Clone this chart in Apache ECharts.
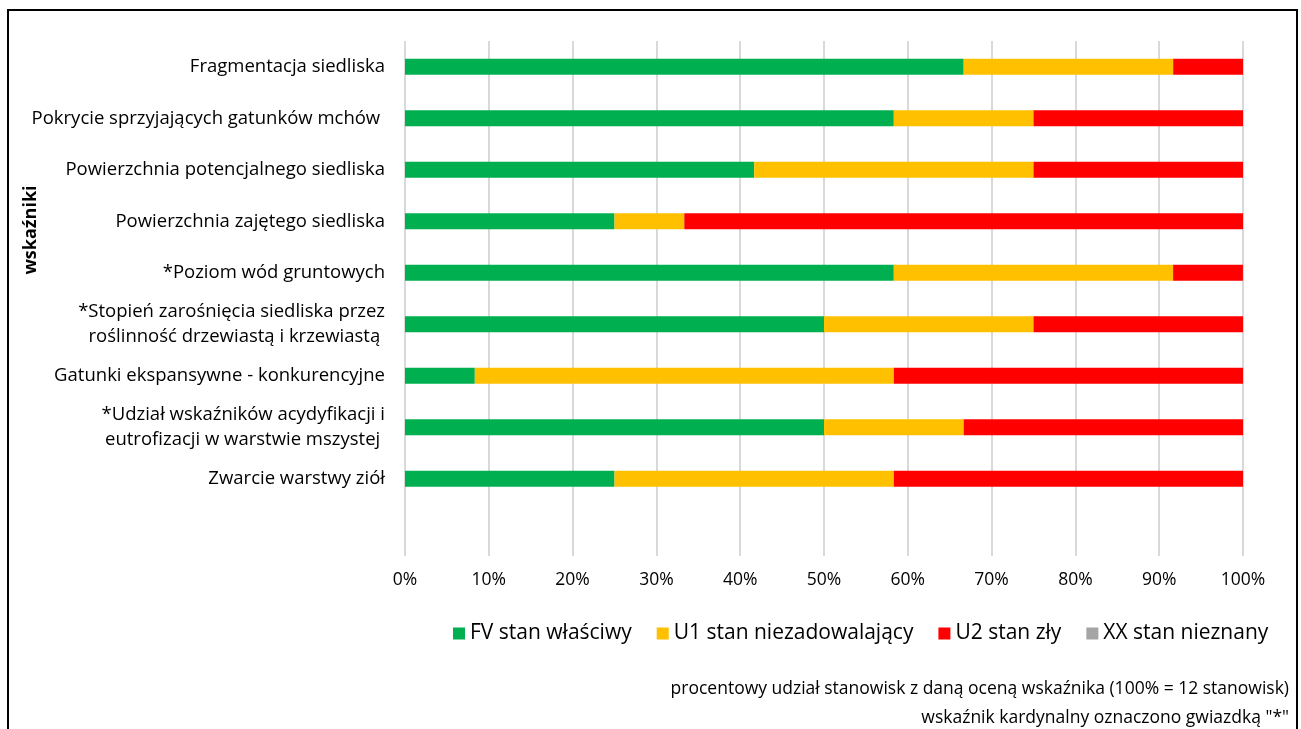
<!DOCTYPE html>
<html><head><meta charset="utf-8">
<script src="https://cdn.jsdelivr.net/npm/echarts@6/dist/echarts.min.js"></script>
<style>html,body{margin:0;padding:0;background:#fff}#c{width:1301px;height:729px}</style>
</head><body><div id="c"></div>
<script>
const categories = [
  'Fragmentacja siedliska',
  'Pokrycie sprzyjających gatunków mchów ',
  'Powierzchnia potencjalnego siedliska',
  'Powierzchnia zajętego siedliska',
  '*Poziom wód gruntowych',
  '*Stopień zarośnięcia siedliska przez\nroślinność drzewiastą i krzewiastą ',
  'Gatunki ekspansywne - konkurencyjne',
  '*Udział wskaźników acydyfikacji i\neutrofizacji w warstwie mszystej ',
  'Zwarcie warstwy ziół',
  ''
];
const fv = [66.67, 58.33, 41.67, 25, 58.33, 50, 8.33, 50, 25, null];
const u1 = [25, 16.67, 33.33, 8.33, 33.33, 25, 50, 16.67, 33.33, null];
const u2 = [8.33, 25, 25, 66.67, 8.33, 25, 41.67, 33.33, 41.67, null];
const xx = [0, 0, 0, 0, 0, 0, 0, 0, 0, null];
const seriesNames = ['FV stan właściwy', 'U1 stan niezadowalający', 'U2 stan zły', 'XX stan nieznany'];
const colors = ['#00B050', '#FFC000', '#FF0000', '#A5A5A5'];
const yTitle = 'wskaźniki';
const footnotes = ['procentowy udział stanowisk z daną oceną wskaźnika (100% = 12 stanowisk)', 'wskaźnik kardynalny oznaczono gwiazdką "*"'];

const FONT = 'Open Sans';
const chart = echarts.init(document.getElementById('c'));
const vals = [fv, u1, u2, xx];
chart.setOption({
  animation: false,
  textStyle: { fontFamily: FONT },
  color: colors,
  grid: { left: 405, right: 58, top: 41, height: 515, containLabel: false },
  xAxis: {
    type: 'value', min: 0, max: 100, interval: 10,
    axisLabel: { formatter: '{value}%', color: '#000', fontSize: 17.5, fontFamily: FONT, margin: 15 },
    splitLine: { lineStyle: { color: '#D9D9D9', width: 2 } },
    axisLine: { show: false }, axisTick: { show: false }
  },
  yAxis: {
    type: 'category', inverse: true, data: categories,
    axisLabel: { color: '#000', fontSize: 18.5, fontFamily: FONT, margin: 20, lineHeight: 25, align: 'right' },
    axisLine: { show: false }, axisTick: { show: false }, splitLine: { show: false }
  },
  legend: {
    data: seriesNames, top: 618, left: 448,
    icon: 'rect', itemWidth: 12, itemHeight: 12, itemGap: 25, itemTextGap: 5,
    textStyle: { fontSize: 21, color: '#000', fontFamily: FONT }
  },
  series: seriesNames.map((n, i) => ({
    name: n, type: 'bar', stack: 'all', barWidth: 16, data: vals[i],
    itemStyle: { color: colors[i] }
  })),
  graphic: [
    { type: 'rect', shape: { x: 8, y: 10, width: 1289, height: 740 }, style: { fill: 'none', stroke: '#000', lineWidth: 2 }, silent: true },
    { type: 'text', x: 31, y: 230, rotation: Math.PI / 2, style: { text: yTitle, fontSize: 18, fontWeight: 'bold', fontFamily: FONT, fill: '#000', align: 'center', verticalAlign: 'middle' } },
    { type: 'text', x: 1289, y: 689, style: { text: footnotes[0], fontSize: 17.5, fontFamily: FONT, fill: '#000', align: 'right', verticalAlign: 'middle' } },
    { type: 'text', x: 1289, y: 718, style: { text: footnotes[1], fontSize: 17.5, fontFamily: FONT, fill: '#000', align: 'right', verticalAlign: 'middle' } }
  ]
});
</script></body></html>
